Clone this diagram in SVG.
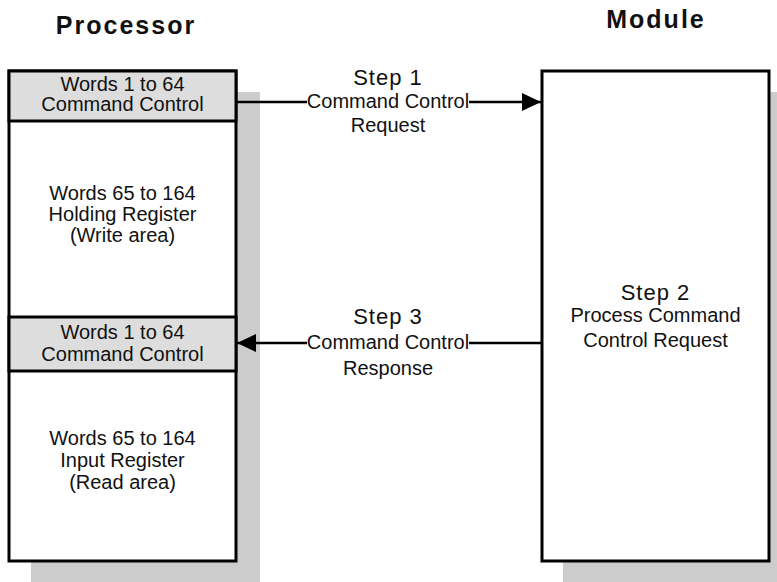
<svg xmlns="http://www.w3.org/2000/svg" width="777" height="582" viewBox="0 0 777 582">
<style>
.shadow{fill:#cccccc;stroke:none}
.box{fill:#ffffff;stroke:#000000;stroke-width:3}
.hdr{fill:#dddddd;stroke:#000000;stroke-width:3}
.title{font-family:"Liberation Sans",Arial,sans-serif;font-weight:bold;font-size:25px;letter-spacing:2px;fill:#111111;text-anchor:middle}
.t{font-family:"Liberation Sans",Arial,sans-serif;font-size:20px;fill:#111111;text-anchor:middle}
.step{font-family:"Liberation Sans",Arial,sans-serif;font-size:22px;letter-spacing:1px;fill:#111111;text-anchor:middle}
.lab{font-family:"Liberation Sans",Arial,sans-serif;font-size:20px;fill:#111111;text-anchor:middle}
.conn{stroke:#000000;stroke-width:2.5;fill:none}
</style>
<defs>
<marker id="arr" markerUnits="userSpaceOnUse" markerWidth="20" markerHeight="18" refX="19" refY="9" orient="auto">
<path d="M0,0 L19,9 L0,18 Z" fill="#000000"/>
</marker>
</defs>
<rect width="777" height="582" fill="#ffffff"/>

<text class="title" x="126" y="34">Processor</text>
<text class="title" x="656" y="28">Module</text>

<g id="processor">
<rect class="shadow" x="31" y="92" width="229" height="490"/>
<rect class="box" x="9" y="71" width="227" height="490"/>
<rect class="hdr" x="9" y="71" width="227" height="50"/>
<text class="t" x="122.5" y="91">Words 1 to 64</text>
<text class="t" x="122.5" y="111">Command Control</text>
<text class="t" x="122.5" y="200">Words 65 to 164</text>
<text class="t" x="122.5" y="221">Holding Register</text>
<text class="t" x="122.5" y="242">(Write area)</text>
<rect class="hdr" x="9" y="317" width="227" height="54"/>
<text class="t" x="122.5" y="339">Words 1 to 64</text>
<text class="t" x="122.5" y="361">Command Control</text>
<text class="t" x="122.5" y="445">Words 65 to 164</text>
<text class="t" x="122.5" y="467">Input Register</text>
<text class="t" x="122.5" y="489">(Read area)</text>
</g>

<g id="module">
<rect class="shadow" x="563" y="92" width="229" height="490"/>
<rect class="box" x="542" y="71" width="227" height="490"/>
<text class="step" x="655.5" y="300">Step 2</text>
<text class="lab" x="655.5" y="322">Process Command</text>
<text class="lab" x="655.5" y="347">Control Request</text>
</g>

<g id="connectors">
<line class="conn" x1="237" y1="102" x2="307" y2="102"/>
<line class="conn" x1="469" y1="102" x2="541" y2="102" marker-end="url(#arr)"/>
<line class="conn" x1="541" y1="343" x2="469" y2="343"/>
<line class="conn" x1="307" y1="343" x2="237" y2="343" marker-end="url(#arr)"/>
<text class="step" x="388" y="85">Step 1</text>
<text class="lab" x="388" y="108">Command Control</text>
<text class="lab" x="388" y="132">Request</text>
<text class="step" x="388" y="324">Step 3</text>
<text class="lab" x="388" y="349">Command Control</text>
<text class="lab" x="388" y="375">Response</text>
</g>
</svg>
